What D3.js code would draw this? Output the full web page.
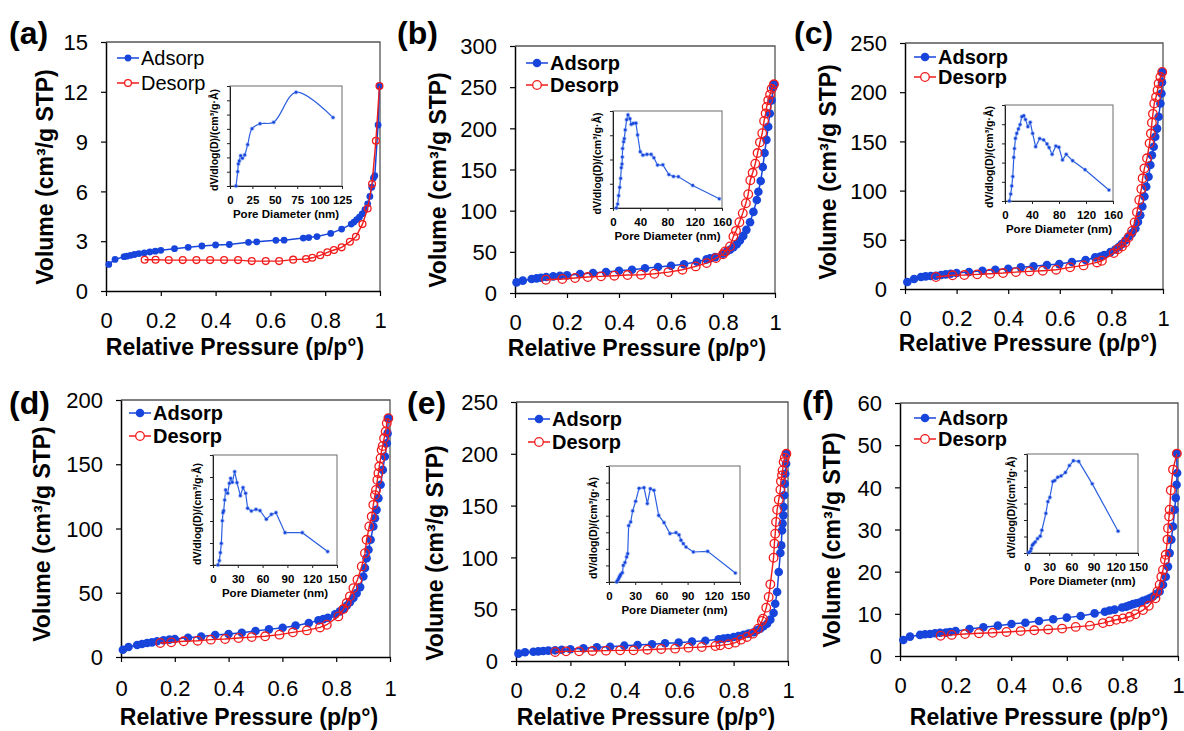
<!DOCTYPE html>
<html><head><meta charset="utf-8">
<script src="https://cdn.jsdelivr.net/npm/d3@7"></script>
<style>
body{margin:0;background:#fff}
svg{display:block}
text{font-family:"Liberation Sans",Arial,Helvetica,sans-serif;fill:#000}
</style>
</head><body>
<svg id="fig" width="1184" height="731"></svg>
<script>
// Nitrogen isotherms [p/p0, volume] and pore size distributions [diameter nm, relative dV/dlogD]
const adsA = [[0.01,1.6],[0.033,1.9],[0.066,2.07],[0.076,2.1],[0.09,2.15],[0.104,2.2],[0.12,2.25],[0.14,2.3],[0.16,2.35],[0.18,2.4],[0.2,2.45],[0.25,2.55],[0.30,2.63],[0.35,2.71],[0.40,2.77],[0.45,2.8],[0.52,2.93],[0.55,2.96],[0.62,3.05],[0.65,3.06],[0.72,3.19],[0.74,3.22],[0.77,3.28],[0.82,3.47],[0.86,3.73],[0.895,4.03],[0.905,4.15],[0.915,4.3],[0.925,4.45],[0.935,4.65],[0.945,4.9],[0.955,5.25],[0.963,5.7],[0.97,6.25],[0.976,6.8],[0.981,6.95],[0.993,10.0],[0.998,12.35]];
const desA = [[0.998,12.35],[0.985,9.05],[0.971,6.45],[0.955,4.97],[0.936,4.03],[0.912,3.27],[0.89,2.97],[0.86,2.63],[0.832,2.47],[0.808,2.33],[0.782,2.15],[0.753,2.0],[0.73,1.93],[0.683,1.89],[0.632,1.8],[0.583,1.8],[0.532,1.8],[0.482,1.86],[0.431,1.86],[0.38,1.86],[0.33,1.86],[0.28,1.86],[0.229,1.86],[0.181,1.88],[0.141,1.88]];
const psdA = [[6.7,0],[8.6,1.0],[9.3,1.54],[10.4,1.75],[11.9,2.12],[13.8,1.94],[16.4,2.17],[19.7,2.89],[24.6,4.01],[33.5,4.36],[48.7,4.46],[73.7,6.56],[115,4.79]];

const adsB = [[0.006,12.9],[0.03,15],[0.064,17],[0.083,17.8],[0.1,18.6],[0.12,19.4],[0.147,20.2],[0.173,21],[0.2,21.4],[0.25,23],[0.3,24.2],[0.35,25.4],[0.4,27],[0.45,28.3],[0.5,30],[0.55,31.5],[0.6,33],[0.65,35],[0.7,38],[0.737,40.8],[0.75,42],[0.77,43.6],[0.8,47.6],[0.814,50.5],[0.827,52.5],[0.84,55.7],[0.853,59.3],[0.865,63.8],[0.878,69.4],[0.89,76.7],[0.904,86],[0.917,98.5],[0.93,113],[0.936,123],[0.945,136],[0.953,153],[0.96,170],[0.967,186],[0.974,202],[0.98,218],[0.987,234],[0.993,249.5],[0.996,253.5]];
const desB = [[0.996,253.5],[0.987,248],[0.981,241],[0.974,234],[0.968,226],[0.964,218],[0.958,209],[0.951,194],[0.942,183],[0.933,170],[0.924,157],[0.914,146],[0.905,137],[0.897,120],[0.888,109],[0.876,97],[0.863,86],[0.85,75.5],[0.84,68.6],[0.827,56.5],[0.808,50.5],[0.8,47],[0.773,42.4],[0.737,36.3],[0.695,32.3],[0.644,28.3],[0.59,25.4],[0.536,23.4],[0.485,22.2],[0.433,21.8],[0.382,21],[0.331,20.2],[0.28,19.4],[0.231,18.2],[0.182,17],[0.119,16.1]];
const psdB = [[4.9,0],[6.8,0.16],[8.3,0.51],[9.8,0.85],[11.2,1.22],[12.2,1.66],[13.2,1.81],[13.7,2.1],[14.1,2.45],[15.6,2.73],[16.6,2.86],[18,3.22],[20,3.64],[22,3.84],[24.9,3.68],[26.8,3.45],[29.8,3.49],[33.7,3.5],[36.1,3.01],[40,2.32],[43.9,2.18],[49.8,2.21],[56,2.21],[60,2.07],[65.4,1.77],[73.2,1.78],[82,1.38],[88.8,1.3],[96,1.29],[117,0.93],[156,0.38]];

const adsC = [[0.009,7.1],[0.035,10.1],[0.062,12.2],[0.08,12.8],[0.1,13.2],[0.12,13.5],[0.14,14.2],[0.158,14.9],[0.177,15.5],[0.2,16.2],[0.248,17.2],[0.3,18.6],[0.35,19.6],[0.4,20.6],[0.449,22],[0.498,23],[0.55,24.3],[0.598,25.3],[0.647,27.4],[0.7,29.4],[0.737,32.1],[0.757,33.1],[0.772,34.5],[0.796,37.5],[0.815,40.2],[0.828,42.6],[0.84,45.6],[0.854,49.3],[0.867,53.4],[0.88,56.8],[0.893,61.5],[0.903,68.2],[0.912,75],[0.92,83.8],[0.928,94],[0.935,104],[0.944,114],[0.951,126],[0.957,136],[0.964,144.6],[0.97,154.7],[0.977,163],[0.983,175],[0.99,188.5],[0.994,198.6],[0.996,210],[0.997,220.6]];
const desC = [[0.997,220.6],[0.99,215.5],[0.983,208.8],[0.979,202],[0.973,195],[0.966,188.5],[0.961,178],[0.957,169],[0.953,158],[0.948,148],[0.938,132.8],[0.928,122.6],[0.921,112.5],[0.916,101.7],[0.908,90.5],[0.899,78],[0.89,67.6],[0.88,59],[0.867,52.7],[0.854,47.3],[0.841,43.2],[0.825,40.5],[0.809,36.5],[0.763,28.7],[0.744,27],[0.692,24],[0.64,22],[0.586,19.6],[0.534,18.6],[0.483,17.9],[0.43,17.2],[0.38,16.2],[0.33,15.5],[0.28,14.9],[0.23,14.2],[0.184,13.9],[0.12,12.2]];
const psdC = [[6.5,0],[8.5,0.36],[10,0.78],[11.5,1.27],[13,2.27],[14,2.73],[15.5,3.26],[17.4,3.52],[19.9,3.75],[22.4,3.98],[24.9,4.39],[27.9,4.44],[30.4,4.24],[33.9,3.87],[37.4,4.1],[40.9,3.52],[45.4,2.83],[51.3,3.25],[57.3,3.18],[62.3,2.97],[65.3,2.78],[69.8,2.43],[75.3,2.86],[79.8,2.8],[85.2,2.14],[90.7,2.43],[100.2,2.1],[118.6,1.63],[154,0.57]];

const adsD = [[0.007,5.7],[0.028,7.8],[0.06,9.3],[0.078,10.1],[0.097,10.9],[0.115,11.4],[0.134,12.2],[0.158,13],[0.18,13.5],[0.2,14],[0.249,15],[0.298,16],[0.35,17.1],[0.4,17.9],[0.449,18.9],[0.5,20.2],[0.55,21.5],[0.601,22.8],[0.649,24.4],[0.698,26.4],[0.734,28.5],[0.752,29.5],[0.769,30.6],[0.796,33.2],[0.814,35.5],[0.827,37.3],[0.839,39.9],[0.851,42.7],[0.864,45.9],[0.876,49.7],[0.889,54.4],[0.901,62.7],[0.907,69.2],[0.913,76.9],[0.92,83.4],[0.928,91.2],[0.938,101.6],[0.944,108],[0.95,114.5],[0.957,123.6],[0.965,134],[0.973,145.6],[0.981,156],[0.988,166.3],[0.991,174],[0.994,185.8]];
const desD = [[0.994,185.8],[0.988,181.9],[0.984,175.4],[0.978,170.2],[0.973,164.2],[0.969,161],[0.965,154.7],[0.96,148.2],[0.957,143],[0.953,137.8],[0.948,130],[0.944,126],[0.938,118.4],[0.932,109.3],[0.923,101.6],[0.913,91.2],[0.907,80.8],[0.895,70.5],[0.879,60.1],[0.864,53.6],[0.851,47.2],[0.839,42],[0.827,37.3],[0.808,31.6],[0.765,25.1],[0.74,23],[0.691,20.7],[0.639,19.2],[0.589,17.4],[0.536,16.1],[0.486,15.5],[0.437,14.8],[0.387,14],[0.334,13.5],[0.285,12.7],[0.233,12.2],[0.187,11.4],[0.146,10.9]];
const psdD = [[6,0],[7.7,0.2],[8.9,0.56],[10.1,0.98],[11.3,2.01],[12.1,2.38],[12.9,2.47],[14.1,2.95],[15.3,3.41],[17.7,3.26],[19.8,3.71],[21.4,3.94],[23.4,3.76],[26.2,4.24],[29,3.74],[33.1,3.15],[36.3,3.52],[39.5,3.26],[41.9,2.58],[46.4,2.45],[52,2.53],[56.9,2.47],[64.5,2.08],[70.6,2.3],[76.2,2.38],[87.1,1.47],[108,1.47],[138.7,0.61]];

const adsE = [[0.009,7.1],[0.033,8.4],[0.064,9],[0.082,9.3],[0.1,9.7],[0.119,10],[0.144,10.3],[0.168,10.9],[0.2,11.3],[0.248,12.2],[0.297,13.2],[0.346,13.8],[0.398,14.8],[0.447,15.4],[0.5,16.1],[0.548,17.1],[0.598,17.7],[0.647,18.7],[0.696,19.6],[0.745,20.9],[0.763,21.6],[0.779,22.2],[0.8,23.2],[0.818,24.1],[0.837,25.4],[0.855,26.4],[0.874,27.7],[0.886,29.6],[0.898,31.2],[0.91,33.5],[0.923,36],[0.935,39.9],[0.947,46.3],[0.953,55.3],[0.96,66.6],[0.966,85.9],[0.972,104.2],[0.975,111.6],[0.978,126],[0.98,132.6],[0.983,140.6],[0.984,148.6],[0.986,160],[0.988,171],[0.99,180.8],[0.993,190.5],[0.994,200]];
const desE = [[0.994,200],[0.988,196.3],[0.984,192],[0.98,184],[0.978,179.2],[0.974,173.4],[0.972,165.4],[0.966,155.7],[0.96,146],[0.956,134.2],[0.953,122.9],[0.95,113.3],[0.947,99.7],[0.935,74],[0.929,61.8],[0.92,51.5],[0.908,40.9],[0.904,38.6],[0.89,31.2],[0.871,26.4],[0.849,23.2],[0.827,20.6],[0.806,17.7],[0.782,16.1],[0.751,15.1],[0.733,14.5],[0.683,13.5],[0.634,12.9],[0.585,11.9],[0.534,11.6],[0.483,10.9],[0.432,10.3],[0.383,10.3],[0.331,10],[0.281,9.7],[0.232,9.3],[0.184,9.3],[0.144,8.7]];
const psdE = [[8.8,0],[9.9,0.1],[11,0.2],[11.8,0.3],[12.6,0.36],[13.4,0.46],[15.3,0.56],[16.4,1.0],[18.3,1.17],[20.2,1.51],[21.4,1.71],[22.5,3.4],[24.8,3.62],[27.1,4.29],[30.5,4.87],[34.4,5.65],[40.1,5.69],[43.9,4.73],[47.3,5.63],[51.5,5.53],[56.9,4.02],[63,3.58],[69.8,2.92],[76.7,2.98],[80.2,2.84],[82.4,2.52],[85.1,2.31],[88.2,2.11],[96.6,1.81],[113,1.85],[144.7,0.54]];

const adsF = [[0.012,3.8],[0.036,4.6],[0.072,5],[0.09,5.15],[0.108,5.2],[0.126,5.4],[0.144,5.5],[0.165,5.55],[0.18,5.7],[0.2,5.9],[0.25,6.4],[0.3,6.8],[0.352,7.2],[0.401,7.6],[0.451,7.9],[0.5,8.3],[0.551,8.7],[0.6,9.1],[0.65,9.5],[0.7,10.1],[0.737,10.5],[0.754,10.8],[0.772,11],[0.799,11.5],[0.814,11.7],[0.826,12],[0.838,12.3],[0.85,12.5],[0.862,12.7],[0.874,13.1],[0.886,13.3],[0.898,13.7],[0.91,14.1],[0.922,14.7],[0.934,15.3],[0.946,16.9],[0.956,18.8],[0.964,21.2],[0.97,24.4],[0.976,27.6],[0.982,30.7],[0.988,34.7],[0.992,37.5],[0.995,40.6],[0.997,43.4],[0.995,48]];
const desF = [[0.996,48],[0.982,44.2],[0.974,39.3],[0.97,34.7],[0.968,33.1],[0.964,30.3],[0.962,27.6],[0.956,24],[0.953,22.8],[0.946,20.4],[0.94,18.8],[0.934,16.9],[0.926,15.3],[0.919,13.7],[0.895,11.9],[0.874,10.9],[0.847,9.9],[0.826,9.3],[0.802,8.9],[0.778,8.6],[0.754,8.2],[0.73,7.8],[0.683,7.2],[0.632,6.9],[0.583,6.5],[0.533,6.3],[0.483,6.1],[0.434,5.9],[0.383,5.7],[0.333,5.5],[0.284,5.4],[0.234,5.2],[0.186,5],[0.146,4.8]];
const psdF = [[2.2,0.02],[4.5,0.1],[5.8,0.26],[7.2,0.47],[9,0.57],[11.2,0.67],[14.3,0.87],[17.9,1.02],[20.1,1.38],[25.5,2.4],[28.2,3.11],[30.9,3.37],[34.9,4.33],[37.6,4.39],[41.6,4.59],[46.1,4.67],[51.9,4.88],[57.3,5.3],[62.7,5.59],[69.9,5.55],[88.2,4.19],[123.1,1.32]];

const pressureTicks = [0, 0.2, 0.4, 0.6, 0.8, 1];
const seriesNames = ["Adsorp", "Desorp"];
const volumeTitle = "Volume (cm\u00B3/g STP)";
const pressureTitle = "Relative Pressure (p/p\u00B0)";
const poreTitle = "Pore Diameter (nm)";
const psdTitle = "dV/dlog(D)/(cm\u00B3/g\u00B7\u00C5)";

const BLUE = "#1745dc", RED = "#f21b1b", INSET = "#2b5fe0";

const panels = [
  {tag:"(a)", ads:adsA, des:desA, psd:psdA, yMax:15, yStep:3, box:[106,380,42,291], tagPos:[9,33],
   leg:[117,58,83], legBold:false, r:3.4, xt:[235,347], yt:[45,177], lab:29,
   inset:[230,342,86,186], ixMax:125, ixStep:25, iyDiv:7, smooth:true},
  {tag:"(b)", ads:adsB, des:desB, psd:psdB, yMax:300, yStep:50, box:[515,775,46,293], tagPos:[397,33],
   leg:[526,63,85], legBold:true, r:4.3, xt:[637,348], yt:[438,180], lab:29,
   inset:[613,722,111,208], ixMax:160, ixStep:40, iyDiv:4, smooth:false},
  {tag:"(c)", ads:adsC, des:desC, psd:psdC, yMax:250, yStep:50, box:[905,1163,43,289], tagPos:[794,33],
   leg:[914,57,77], legBold:true, r:4.3, xt:[1028,343], yt:[828,172], lab:29,
   inset:[1005,1113,105,201], ixMax:160, ixStep:40, iyDiv:5, smooth:false},
  {tag:"(d)", ads:adsD, des:desD, psd:psdD, yMax:200, yStep:50, box:[121,390,400,657], tagPos:[9,403],
   leg:[129,413,436], legBold:true, r:4.3, xt:[249,717], yt:[42,534], lab:31,
   inset:[213,337,455,565], ixMax:150, ixStep:30, iyDiv:5, smooth:false},
  {tag:"(e)", ads:adsE, des:desE, psd:psdE, yMax:250, yStep:50, box:[516,788,402,661], tagPos:[407,403],
   leg:[528,419,442], legBold:true, r:4.3, xt:[646,717], yt:[435,553], lab:29,
   inset:[609,740,466,582], ixMax:150, ixStep:30, iyDiv:7, smooth:false},
  {tag:"(f)", ads:adsF, des:desF, psd:psdF, yMax:60, yStep:10, box:[900,1178,403,656], tagPos:[802,402],
   leg:[914,418,439], legBold:true, r:4.3, xt:[1039,717], yt:[832,540], lab:29,
   inset:[1027,1138,454,553], ixMax:150, ixStep:30, iyDiv:6, smooth:false}
];

const svg = d3.select("#fig");

function styleAxis(sel){
  sel.selectAll(".domain").attr("stroke","#000").attr("stroke-width",1.5);
  sel.selectAll(".tick line").attr("stroke","#000").attr("stroke-width",1.2);
}

function drawPanel(p){
  const g = svg.append("g");
  const [x0,x1,y0,y1] = p.box;
  const x = d3.scaleLinear().domain([0,1]).range([x0,x1]);
  const y = d3.scaleLinear().domain([0,p.yMax]).range([y1,y0]);

  // frame: top and right edges
  g.append("path").attr("d",`M${x0},${y0}H${x1}V${y1}`)
    .attr("fill","none").attr("stroke","#555").attr("stroke-width",1.3);

  const yTicks = d3.range(0, p.yMax + 1e-9, p.yStep);
  const ya = g.append("g").attr("transform",`translate(${x0},0)`)
    .call(d3.axisLeft(y).tickValues(yTicks).tickSize(5).tickSizeOuter(0).tickFormat(d3.format("d")));
  styleAxis(ya);
  ya.selectAll("text").attr("x",-18).attr("dy","0.35em").style("font-size","22px");

  const xa = g.append("g").attr("transform",`translate(0,${y1})`)
    .call(d3.axisBottom(x).tickValues(pressureTicks).tickSize(5).tickSizeOuter(0)
      .tickFormat(d => (d===0||d===1) ? String(d) : d.toFixed(1)));
  styleAxis(xa);
  xa.selectAll("text").attr("y",p.lab).attr("dy","0.35em").style("font-size","22px");

  // axis titles
  g.append("text").attr("x",p.xt[0]).attr("y",p.xt[1]).attr("dy","0.35em")
    .attr("text-anchor","middle").style("font-size","23px").style("font-weight","bold").text(pressureTitle);
  g.append("text").attr("transform",`translate(${p.yt[0]},${p.yt[1]}) rotate(-90)`).attr("dy","0.35em")
    .attr("text-anchor","middle").style("font-size","23px").style("font-weight","bold").text(volumeTitle);

  // panel tag
  g.append("text").attr("x",p.tagPos[0]).attr("y",p.tagPos[1]).attr("dy","0.35em")
    .style("font-size","32px").style("font-weight","bold").text(p.tag);

  // isotherms
  const line = d3.line().x(d=>x(d[0])).y(d=>y(d[1]));
  g.append("path").datum(p.ads).attr("d",line).attr("fill","none").attr("stroke",BLUE).attr("stroke-width",1.5);
  g.selectAll("circle.ads").data(p.ads).join("circle").attr("class","ads")
    .attr("cx",d=>x(d[0])).attr("cy",d=>y(d[1])).attr("r",p.r).attr("fill",BLUE);
  g.append("path").datum(p.des).attr("d",line).attr("fill","none").attr("stroke",RED).attr("stroke-width",1.4);
  g.selectAll("circle.des").data(p.des).join("circle").attr("class","des")
    .attr("cx",d=>x(d[0])).attr("cy",d=>y(d[1])).attr("r",p.r).attr("fill","none")
    .attr("stroke",RED).attr("stroke-width",1.3);

  // legend
  const [lx,ly1,ly2] = p.leg;
  [[ly1,BLUE,true],[ly2,RED,false]].forEach(([ly,c,filled],i)=>{
    g.append("line").attr("x1",lx).attr("x2",lx+22).attr("y1",ly).attr("y2",ly).attr("stroke",c).attr("stroke-width",1.5);
    g.append("circle").attr("cx",lx+11).attr("cy",ly).attr("r",p.r)
      .attr("fill",filled?c:"#fff").attr("stroke",c).attr("stroke-width",filled?0:1.3);
    g.append("text").attr("x",lx+24).attr("y",ly).attr("dy","0.35em")
      .style("font-size","20px").style("font-weight",p.legBold?"bold":"normal").text(seriesNames[i]);
  });

  drawInset(g, p);
}

function drawInset(g, p){
  const [ix0,ix1,iy0,iy1] = p.inset;
  const ix = d3.scaleLinear().domain([0,p.ixMax]).range([ix0,ix1]);
  const iy = d3.scaleLinear().domain([0,p.iyDiv]).range([iy1,iy0]);
  const ig = g.append("g");
  ig.append("rect").attr("x",ix0).attr("y",iy0).attr("width",ix1-ix0).attr("height",iy1-iy0)
    .attr("fill","#fff").attr("stroke","#6a6a6a").attr("stroke-width",1);

  const iya = ig.append("g").attr("transform",`translate(${ix0},0)`)
    .call(d3.axisLeft(iy).tickValues(d3.range(0,p.iyDiv+1)).tickSize(3).tickSizeOuter(0).tickFormat(""));
  iya.selectAll(".domain").attr("stroke","#222");
  iya.selectAll(".tick line").attr("stroke","#222");

  const ixa = ig.append("g").attr("transform",`translate(0,${iy1})`)
    .call(d3.axisBottom(ix).tickValues(d3.range(0,p.ixMax+1e-9,p.ixStep)).tickSize(3).tickSizeOuter(0));
  ixa.selectAll(".domain").attr("stroke","#222");
  ixa.selectAll(".tick line").attr("stroke","#222");
  ixa.selectAll("text").attr("y",14).attr("dy","0.35em").style("font-size","11.5px").style("font-weight","bold");

  ig.append("text").attr("x",(ix0+ix1)/2).attr("y",iy1+28).attr("dy","0.35em").attr("text-anchor","middle")
    .style("font-size","11.5px").style("font-weight","bold").text(poreTitle);
  ig.append("text").attr("transform",`translate(${ix0-16},${(iy0+iy1)/2+4}) rotate(-90)`).attr("dy","0.35em")
    .attr("text-anchor","middle").style("font-size","10.5px").style("font-weight","bold").text(psdTitle);

  const l = d3.line().x(d=>ix(d[0])).y(d=>iy(d[1])).curve(p.smooth ? d3.curveCatmullRom : d3.curveLinear);
  ig.append("path").datum(p.psd).attr("d",l).attr("fill","none").attr("stroke",INSET).attr("stroke-width",1.2);
  ig.selectAll("circle").data(p.psd).join("circle")
    .attr("cx",d=>ix(d[0])).attr("cy",d=>iy(d[1])).attr("r",2.3).attr("fill","#7fa0f0").attr("opacity",0.6);
  ig.selectAll("circle.core").data(p.psd).join("circle").attr("class","core")
    .attr("cx",d=>ix(d[0])).attr("cy",d=>iy(d[1])).attr("r",1.4).attr("fill",BLUE);
}

panels.forEach(drawPanel);
</script>
</body></html>
